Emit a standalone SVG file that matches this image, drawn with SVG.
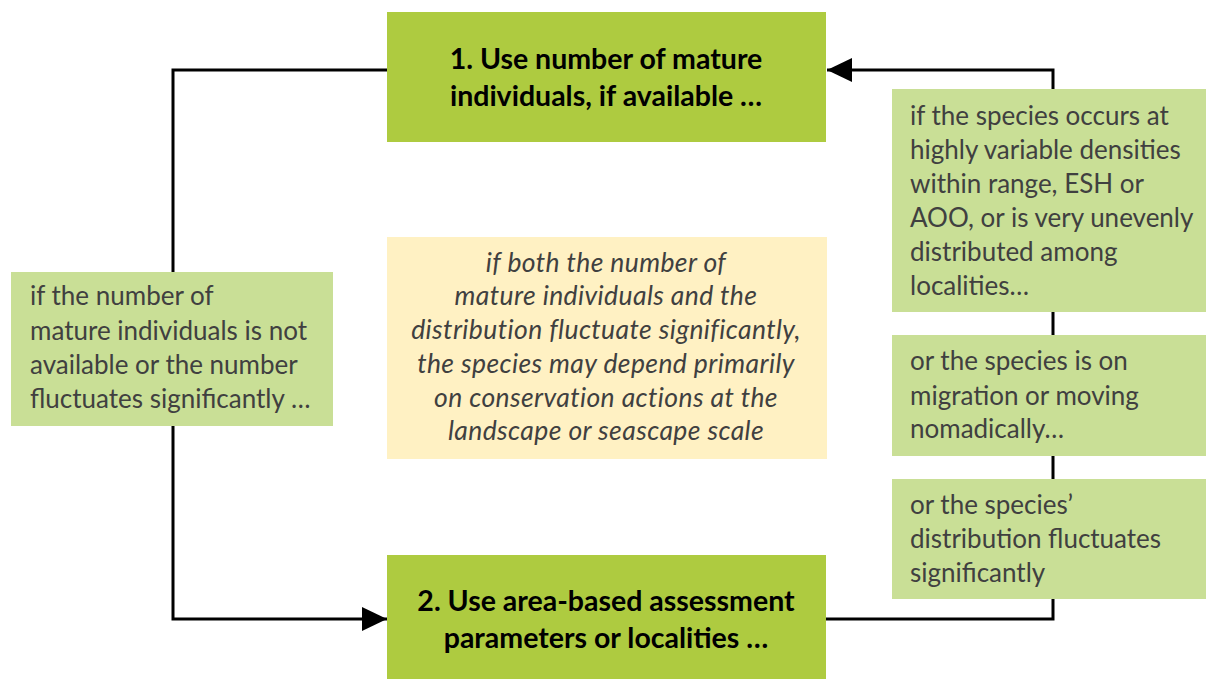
<svg xmlns="http://www.w3.org/2000/svg" width="1206" height="679" viewBox="0 0 1206 679">
<defs>
<marker id="arr" markerUnits="userSpaceOnUse" markerWidth="26" markerHeight="26" refX="25" refY="12" orient="auto">
<path d="M0,0 L25,12 L0,24 z" fill="#000"/>
</marker>
<style>
.main{fill:#aecb40}
.side{fill:#c9df96}
.note{fill:#fff1c3}
.bt{font-family:Lato,"Liberation Sans",sans-serif;font-weight:bold;font-size:28.5px;fill:#000;text-anchor:middle}
.st{font-family:Lato,"Liberation Sans",sans-serif;font-size:26px;fill:#404040}
.it{font-family:Lato,"Liberation Sans",sans-serif;font-style:italic;font-size:26.5px;letter-spacing:0.4px;fill:#404040;text-anchor:middle}
.conn{fill:none;stroke:#000;stroke-width:3}
</style>
</defs>
<rect width="1206" height="679" fill="#fff"/>
<g id="connectors">
<path class="conn" d="M387,70 L173,70 L173,619 L387,619" marker-end="url(#arr)"/>
<path class="conn" d="M826,619 L1053,619 L1053,70 L827,70" marker-end="url(#arr)"/>
</g>
<g id="node-step1">
<rect class="main" x="387" y="12" width="439" height="130"/>
<text class="bt" x="606" y="69">1. Use number of mature</text>
<text class="bt" x="606" y="106">individuals, if available …</text>
</g>
<g id="node-step2">
<rect class="main" x="387" y="555" width="439" height="124"/>
<text class="bt" x="606" y="611">2. Use area-based assessment</text>
<text class="bt" x="606" y="648">parameters or localities …</text>
</g>
<g id="node-note">
<rect class="note" x="387" y="237" width="440" height="222"/>
<text class="it" x="606" y="272">if both the number of</text>
<text class="it" x="606" y="305">mature individuals and the</text>
<text class="it" x="606" y="339">distribution fluctuate significantly,</text>
<text class="it" x="606" y="373">the species may depend primarily</text>
<text class="it" x="606" y="407">on conservation actions at the</text>
<text class="it" x="606" y="440">landscape or seascape scale</text>
</g>
<g id="node-left">
<rect class="side" x="11" y="272" width="322" height="154"/>
<text class="st" x="30" y="305">if the number of</text>
<text class="st" x="30" y="340">mature individuals is not</text>
<text class="st" x="30" y="374">available or the number</text>
<text class="st" x="30" y="408">fluctuates significantly …</text>
</g>
<g id="node-right1">
<rect class="side" x="892" y="89" width="314" height="223"/>
<text class="st" x="910" y="125">if the species occurs at</text>
<text class="st" x="910" y="159">highly variable densities</text>
<text class="st" x="910" y="193">within range, ESH or</text>
<text class="st" x="910" y="227">AOO, or is very unevenly</text>
<text class="st" x="910" y="261">distributed among</text>
<text class="st" x="910" y="295">localities…</text>
</g>
<g id="node-right2">
<rect class="side" x="892" y="335" width="314" height="121"/>
<text class="st" x="910" y="370">or the species is on</text>
<text class="st" x="910" y="405">migration or moving</text>
<text class="st" x="910" y="438">nomadically…</text>
</g>
<g id="node-right3">
<rect class="side" x="892" y="479" width="314" height="120"/>
<text class="st" x="910" y="514">or the species’</text>
<text class="st" x="910" y="548">distribution fluctuates</text>
<text class="st" x="910" y="582">significantly</text>
</g>
</svg>
